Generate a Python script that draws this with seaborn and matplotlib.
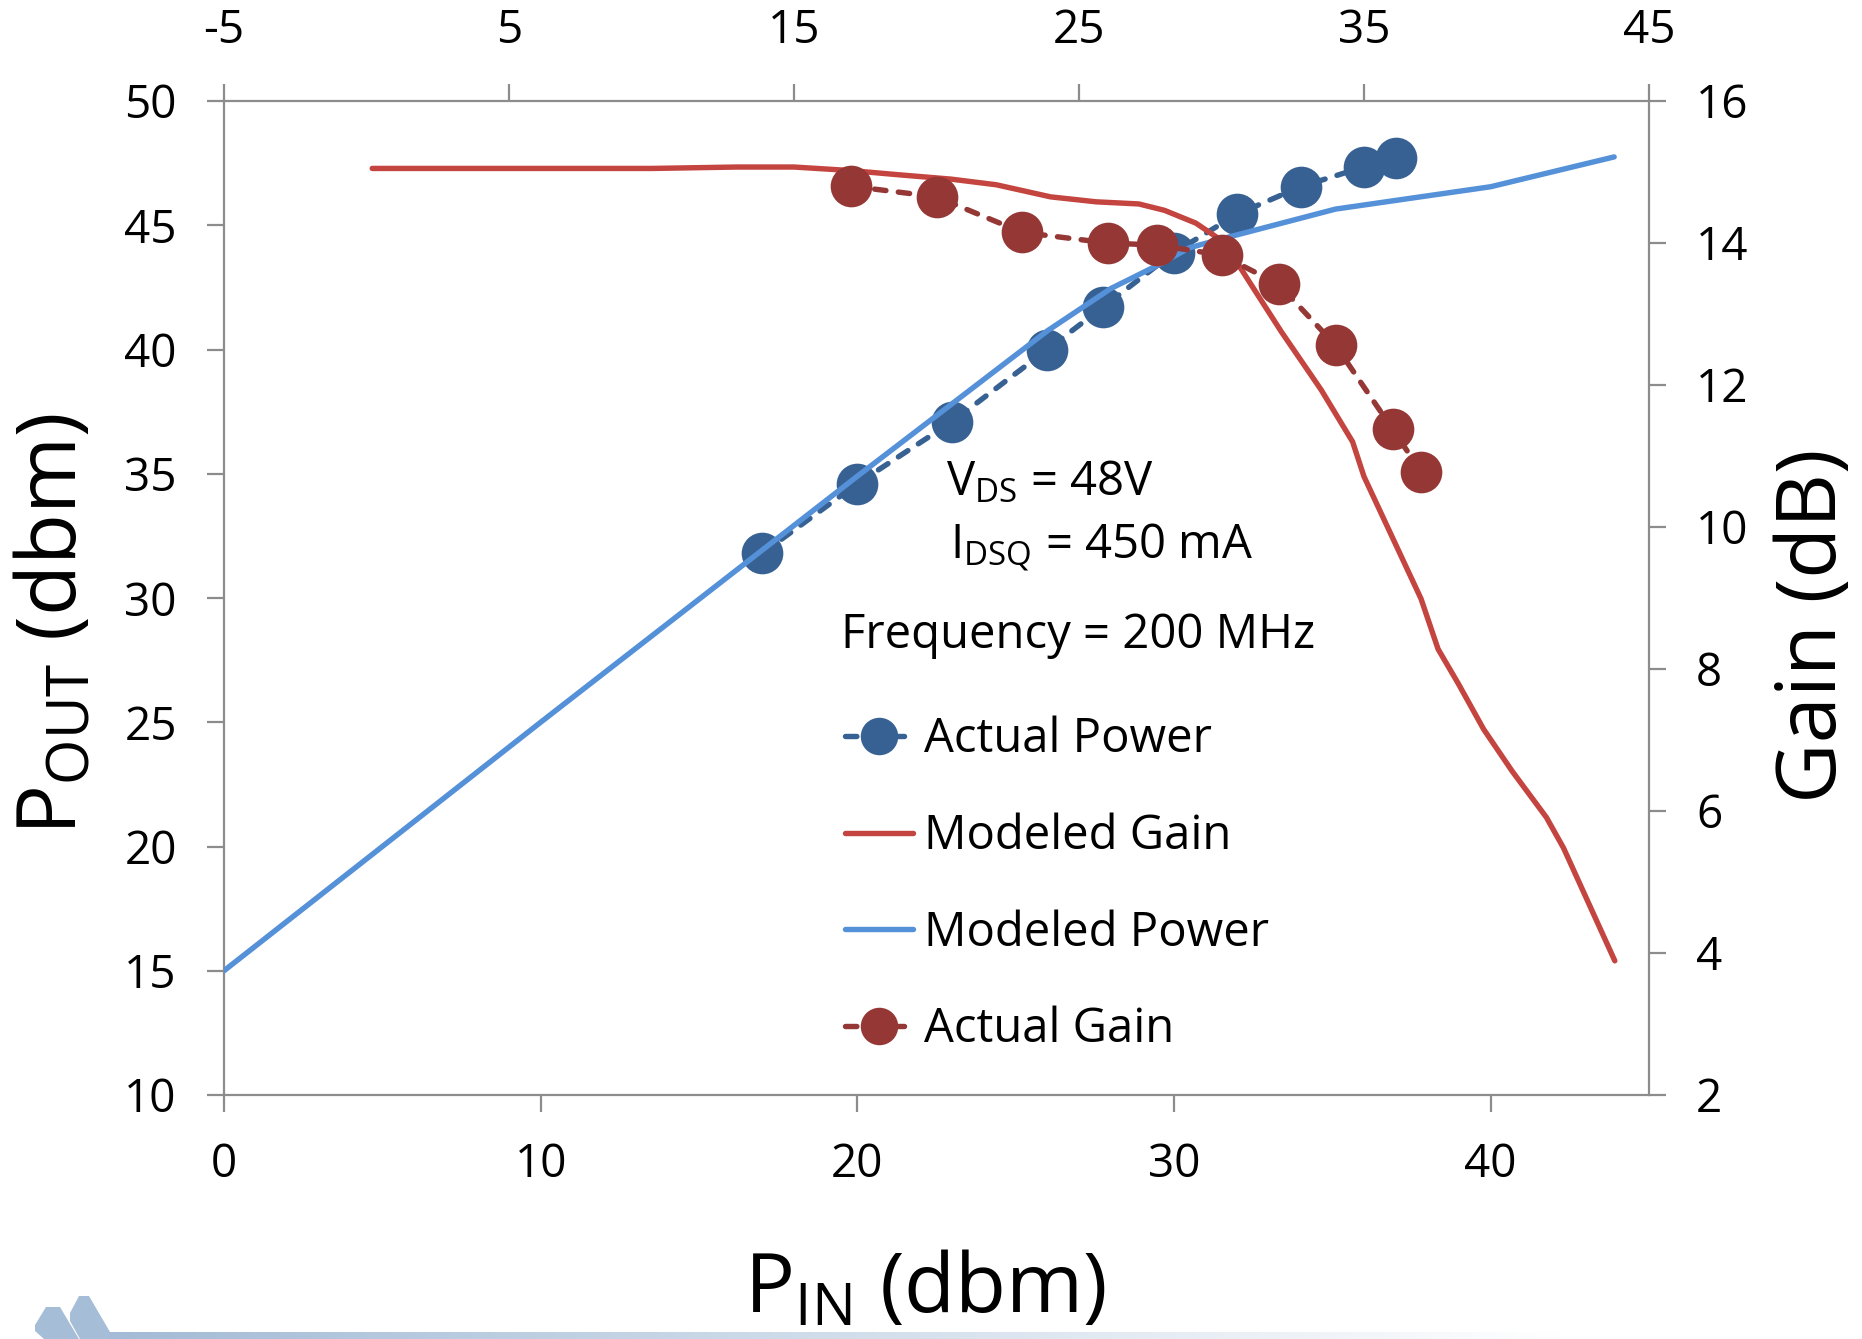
import numpy as np
import matplotlib
matplotlib.use("Agg")
import matplotlib.pyplot as plt
import seaborn as sns
from matplotlib.lines import Line2D
from matplotlib.patches import Polygon

# ---- data -------------------------------------------------------------
# Measured points (input power in dBm)
pin_actual = [17, 20, 23, 26, 27.75, 30, 32, 34, 36, 37]
pout_actual = [31.8, 34.6, 37.1, 40.0, 41.7, 43.9, 45.45, 46.55, 47.35, 47.7]
gain_actual = [14.8, 14.65, 14.15, 14.0, 13.97, 13.83, 13.42, 12.56, 11.38, 10.78]

# Modeled output power
pin_model_power = [0, 10, 20, 26, 28, 29.5, 30.5, 31.8, 35.1, 40.0, 43.9]
pout_model = [15.0, 25.0, 34.9, 40.75, 42.45, 43.4, 44.1, 44.55, 45.65, 46.55, 47.75]

# Modeled gain
pin_model_gain = [0.2, 10, 13, 15, 17, 18.7, 20.5, 22.1, 24.0, 25.6, 27.1, 28.0,
                  29.1, 29.8, 30.6, 31.3, 32.1, 33.5, 34.6, 35.0, 36.0, 37.0,
                  37.6, 38.3, 39.2, 40.2, 41.4, 42.0, 43.8]
gain_model = [15.05, 15.05, 15.07, 15.07, 15.02, 14.96, 14.9, 14.82, 14.65, 14.58,
              14.55, 14.46, 14.28, 14.09, 13.69, 13.25, 12.75, 11.93, 11.2, 10.71,
              9.85, 8.99, 8.28, 7.80, 7.15, 6.56, 5.91, 5.48, 3.89]

x_bottom_ticks = [0, 10, 20, 30, 40]
y_left_ticks = [10, 15, 20, 25, 30, 35, 40, 45, 50]
x_top_ticks = [-5, 5, 15, 25, 35, 45]
y_right_ticks = [2, 4, 6, 8, 10, 12, 14, 16]

legend_labels = ["Actual Power", "Modeled Gain", "Modeled Power", "Actual Gain"]

# ---- style ------------------------------------------------------------
sns.set_theme(style="white")
plt.rcParams["font.family"] = ["Open Sans", "DejaVu Sans"]
plt.rcParams["mathtext.fontset"] = "custom"
plt.rcParams["mathtext.rm"] = "Open Sans"
plt.rcParams["mathtext.it"] = "Open Sans:italic"
plt.rcParams["mathtext.bf"] = "Open Sans:bold"
plt.rcParams["axes.unicode_minus"] = False
plt.rcParams["text.color"] = "black"

C_ACT_POW = "#386193"
C_ACT_GAIN = "#953735"
C_MOD_GAIN = "#C4443F"
C_MOD_POW = "#5591D8"
AXIS_GRAY = "#8C8C8C"

W, H = 1862, 1339
fig = plt.figure(figsize=(W / 100, H / 100), dpi=100)
fig.patch.set_facecolor("white")


def fx(px):
    return px / W


def fy(py):
    return 1 - py / H


rect = [fx(224), fy(1095), fx(1649) - fx(224), fy(101) - fy(1095)]
ax = fig.add_axes(rect)
ax2 = fig.add_axes(rect, frameon=False, label="secondary")

LW = 3.9
MS = 30
DASH = (0, (2.1, 2.3))

# primary axes: output power vs input power
sns.lineplot(x=pin_actual, y=pout_actual, ax=ax, color=C_ACT_POW, linewidth=LW,
             linestyle=DASH, marker="o", markersize=MS, markeredgewidth=0,
             dash_capstyle="round", sort=False, estimator=None, errorbar=None,
             zorder=3)
sns.lineplot(x=pin_model_power, y=pout_model, ax=ax, color=C_MOD_POW, linewidth=LW,
             solid_capstyle="round", sort=False, estimator=None, errorbar=None,
             zorder=4)

# secondary axes: gain vs input power
sns.lineplot(x=pin_model_gain, y=gain_model, ax=ax2, color=C_MOD_GAIN, linewidth=LW,
             solid_capstyle="round", sort=False, estimator=None, errorbar=None,
             zorder=3)
sns.lineplot(x=pin_actual, y=gain_actual, ax=ax2, color=C_ACT_GAIN, linewidth=LW,
             linestyle=DASH, marker="o", markersize=MS, markeredgewidth=0,
             dash_capstyle="round", sort=False, estimator=None, errorbar=None,
             zorder=4)

ax.set_xlim(0, 45)
ax.set_ylim(10, 50)
ax.set_xticks(x_bottom_ticks)
ax.set_yticks(y_left_ticks)
ax.set_xlabel("")
ax.set_ylabel("")

ax2.set_xlim(-5, 45)
ax2.set_ylim(2, 16)
ax2.set_xticks(x_top_ticks)
ax2.set_yticks(y_right_ticks)
ax2.xaxis.tick_top()
ax2.yaxis.tick_right()
ax2.set_xlabel("")
ax2.set_ylabel("")
ax2.patch.set_visible(False)

for s in ax.spines.values():
    s.set_visible(True)
    s.set_color(AXIS_GRAY)
    s.set_linewidth(1.6)

for a in (ax, ax2):
    a.tick_params(axis="both", which="major", direction="out", length=12,
                  width=1.6, color=AXIS_GRAY, labelsize=33, labelcolor="black",
                  pad=22)
    a.grid(False)
ax.tick_params(left=True, bottom=True)
ax2.tick_params(top=True, right=True, left=False, bottom=False,
                labeltop=True, labelright=True, labelleft=False, labelbottom=False)

# ---- axis titles --------------------------------------------------------
fig.text(fx(55), fy(624), r"$\mathrm{P_{OUT}}$ (dbm)", rotation=90,
         ha="center", va="center", fontsize=60)
fig.text(fx(1815), fy(626), "Gain (dB)", rotation=90,
         ha="center", va="center", fontsize=60)
fig.text(fx(925), fy(1313), r"$\mathrm{P_{IN}}$ (dbm)", ha="center",
         va="baseline", fontsize=60)

# ---- test conditions ----------------------------------------------------
fig.text(fx(946), fy(495), r"$\mathrm{V_{DS}}$ = 48V", ha="left", va="baseline",
         fontsize=34)
fig.text(fx(950), fy(559), r"$\mathrm{I_{DSQ}}$ = 450 mA", ha="left",
         va="baseline", fontsize=34)
fig.text(fx(841), fy(648), "Frequency = 200 MHz", ha="left", va="baseline",
         fontsize=34)

# ---- legend -------------------------------------------------------------
handles = [
    Line2D([], [], color=C_ACT_POW, lw=LW, linestyle=DASH, marker="o",
           markersize=MS * 0.9, markeredgewidth=0, dash_capstyle="round"),
    Line2D([], [], color=C_MOD_GAIN, lw=LW, solid_capstyle="round"),
    Line2D([], [], color=C_MOD_POW, lw=LW, solid_capstyle="round"),
    Line2D([], [], color=C_ACT_GAIN, lw=LW, linestyle=DASH, marker="o",
           markersize=MS * 0.9, markeredgewidth=0, dash_capstyle="round"),
]
leg = ax2.legend(handles, legend_labels, loc="upper left",
                 bbox_to_anchor=(fx(845), fy(716)), bbox_transform=fig.transFigure,
                 frameon=False, fontsize=34, handlelength=1.45, handletextpad=0.22,
                 labelspacing=1.04, borderpad=0, borderaxespad=0)

# ---- footer logo --------------------------------------------------------
logo_color = "#A6BDD7"
shape1 = [(35, 1325), (46, 1307), (60, 1307), (79, 1339), (44, 1339), (35, 1331)]
shape2 = [(70, 1313), (79, 1296), (89, 1296), (110, 1332), (110, 1339), (80, 1339),
          (70, 1321)]
for shp in (shape1, shape2):
    fig.patches.append(Polygon([(fx(a), fy(b)) for a, b in shp], closed=True,
                               transform=fig.transFigure, facecolor=logo_color,
                               edgecolor="none", zorder=1))

bar_ax = fig.add_axes([fx(108), 0, fx(1560) - fx(108), 7 / H])
grad = np.linspace(0, 1, 512)
start = np.array([163, 187, 214]) / 255.0
cols = start[None, :] * (1 - grad[:, None]) + np.ones(3)[None, :] * grad[:, None]
bar_ax.imshow(cols[None, :, :], aspect="auto", extent=[0, 1, 0, 1])
bar_ax.set_axis_off()

fig.savefig("out.png", dpi=100, facecolor="white")
